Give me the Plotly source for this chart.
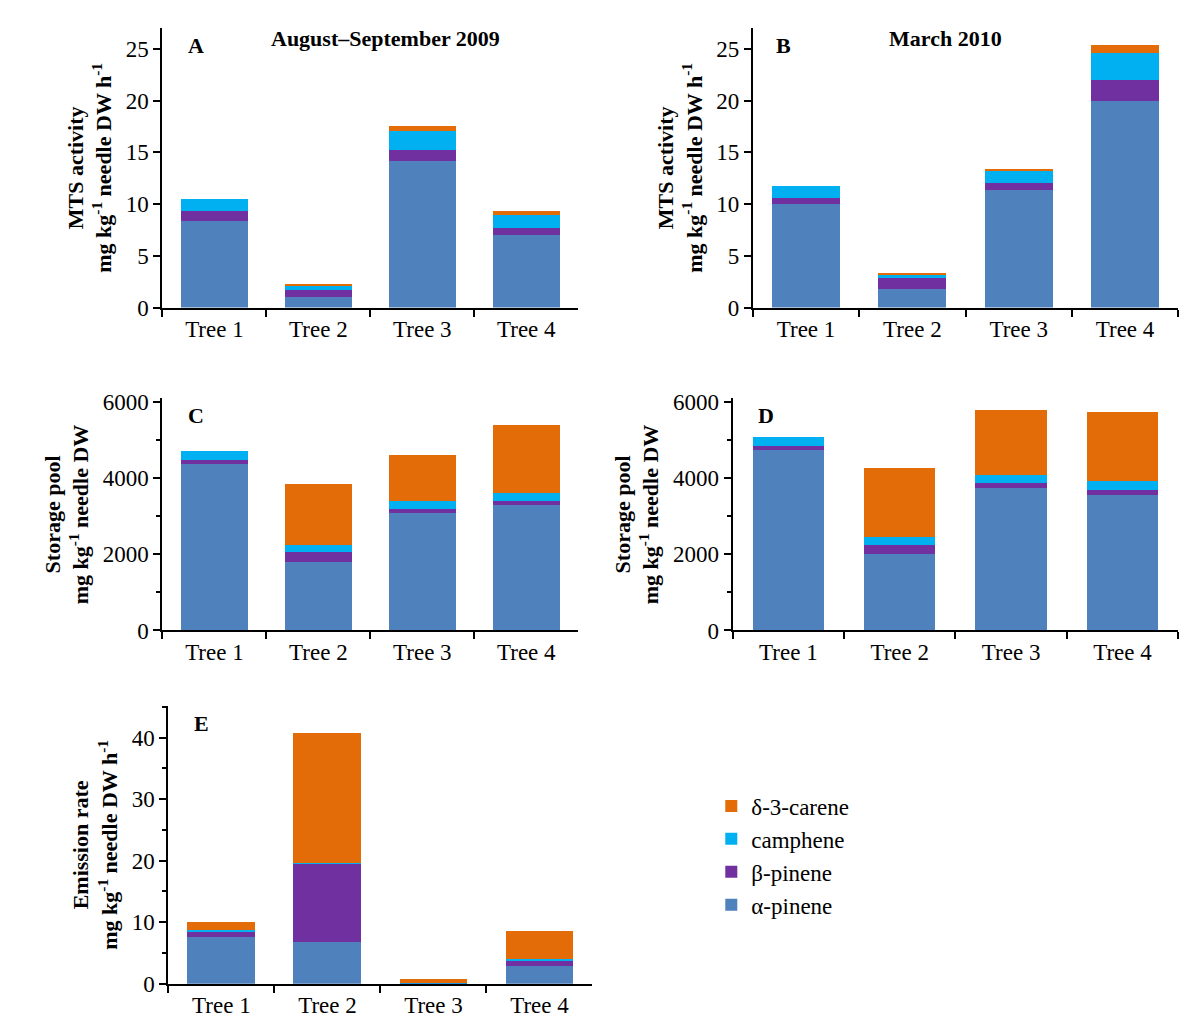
import plotly.graph_objects as go

trees = ["Tree 1", "Tree 2", "Tree 3", "Tree 4"]
compounds = ["α-pinene", "β-pinene", "camphene", "δ-3-carene"]
colors = ["#4F81BD", "#7030A0", "#00B0F0", "#E36C09"]

A_alpha = [8.4, 1.04, 14.2, 7.0]
A_beta = [0.9, 0.7, 1.05, 0.7]
A_camph = [1.2, 0.3, 1.85, 1.2]
A_carene = [0, 0.25, 0.45, 0.4]

B_alpha = [10.0, 1.82, 11.4, 20.0]
B_beta = [0.6, 1.0, 0.6, 2.0]
B_camph = [1.1, 0.35, 1.25, 2.55]
B_carene = [0, 0.18, 0.15, 0.85]

C_alpha = [4380, 1800, 3080, 3300]
C_beta = [100, 250, 110, 110]
C_camph = [230, 200, 210, 200]
C_carene = [0, 1600, 1220, 1800]

D_alpha = [4750, 2000, 3750, 3570]
D_beta = [100, 250, 130, 110]
D_camph = [230, 200, 220, 240]
D_carene = [0, 1820, 1700, 1830]

E_alpha = [7.5, 6.8, 0.05, 2.9]
E_beta = [1.0, 12.7, 0.02, 0.8]
E_camph = [0.2, 0.15, 0.02, 0.25]
E_carene = [1.3, 21.05, 0.6, 4.6]

panels = [
    ("x", "y", [A_alpha, A_beta, A_camph, A_carene]),
    ("x2", "y2", [B_alpha, B_beta, B_camph, B_carene]),
    ("x3", "y3", [C_alpha, C_beta, C_camph, C_carene]),
    ("x4", "y4", [D_alpha, D_beta, D_camph, D_carene]),
    ("x5", "y5", [E_alpha, E_beta, E_camph, E_carene]),
]

fig = go.Figure()
for pi, (xa, ya, series) in enumerate(panels):
    for ci, vals in enumerate(series):
        fig.add_trace(go.Bar(x=trees, y=vals, name=compounds[ci], marker=dict(color=colors[ci], line=dict(width=0)),
                             xaxis=xa, yaxis=ya, showlegend=(pi == 4), legendgroup=compounds[ci]))

FAM = "Liberation Serif"
font = dict(family=FAM, size=23, color="black")
def xax(dom, anchor):
    return dict(domain=dom, anchor=anchor, showline=True, linecolor="black", linewidth=2, ticks="outside",
                ticklen=7, tickcolor="black", tickwidth=2, tickson="boundaries", tickfont=font, showgrid=False)
def yax(dom, anchor, rng, dt, minor=None, title=""):
    d = dict(domain=dom, anchor=anchor, range=rng, showline=True, linecolor="black", linewidth=2, ticks="outside",
             ticklen=7, tickcolor="black", tickwidth=2, dtick=dt, tickfont=font, showgrid=False, zeroline=False,
             title=dict(text=title, font=dict(family=FAM, size=22, color="black"), standoff=8))
    if minor:
        d["minor"] = dict(dtick=minor, ticks="outside", ticklen=4, tickcolor="black", tickwidth=1.5)
    return d

t1 = "<b>MTS activity<br>mg kg<sup>-1</sup> needle DW h<sup>-1</sup></b>"
t2 = "<b>Storage pool<br>mg kg<sup>-1</sup> needle DW</b>"
t3 = "<b>Emission rate<br>mg kg<sup>-1</sup> needle DW h<sup>-1</sup></b>"

fig.update_layout(
    width=1188, height=1030, margin=dict(l=0, r=0, t=0, b=0),
    plot_bgcolor="white", paper_bgcolor="white", barmode="stack", bargap=0.36,
    font=font,
    xaxis=xax([0.130, 0.480], "y"), yaxis=yax([0.711, 0.988], "x", [0, 27], 5, title=t1),
    xaxis2=xax([0.627, 0.985], "y2"), yaxis2=yax([0.711, 0.988], "x2", [0, 27], 5, title=t1),
    xaxis3=xax([0.130, 0.480], "y3"), yaxis3=yax([0.391, 0.621], "x3", [0, 6100], 2000, minor=1000, title=t2),
    xaxis4=xax([0.610, 0.985], "y4"), yaxis4=yax([0.391, 0.621], "x4", [0, 6100], 2000, minor=1000, title=t2),
    xaxis5=xax([0.135, 0.492], "y5"), yaxis5=yax([0.041, 0.316], "x5", [0, 45.1], 10, minor=5, title=t3),
    legend=dict(x=0.592, y=0.168, xanchor="left", yanchor="middle", traceorder="reversed",
                font=dict(family=FAM, size=23, color="black"), itemwidth=30, tracegroupgap=28),
)

anns = [
    (0.150, 0.985, "<b>A</b>"), (0.645, 0.985, "<b>B</b>"), (0.150, 0.618, "<b>C</b>"),
    (0.630, 0.618, "<b>D</b>"), (0.155, 0.313, "<b>E</b>"),
]
for x, y, t in anns:
    fig.add_annotation(x=x, y=y, xref="paper", yref="paper", text=t, showarrow=False, xanchor="left", yanchor="top",
                       font=dict(family=FAM, size=22, color="black"))
fig.add_annotation(x=0.318, y=0.992, xref="paper", yref="paper", text="<b>August–September 2009</b>", showarrow=False,
                   xanchor="center", yanchor="top", font=dict(family=FAM, size=22, color="black"))
fig.add_annotation(x=0.789, y=0.992, xref="paper", yref="paper", text="<b>March 2010</b>", showarrow=False,
                   xanchor="center", yanchor="top", font=dict(family=FAM, size=22, color="black"))

fig.write_html("out.html")
